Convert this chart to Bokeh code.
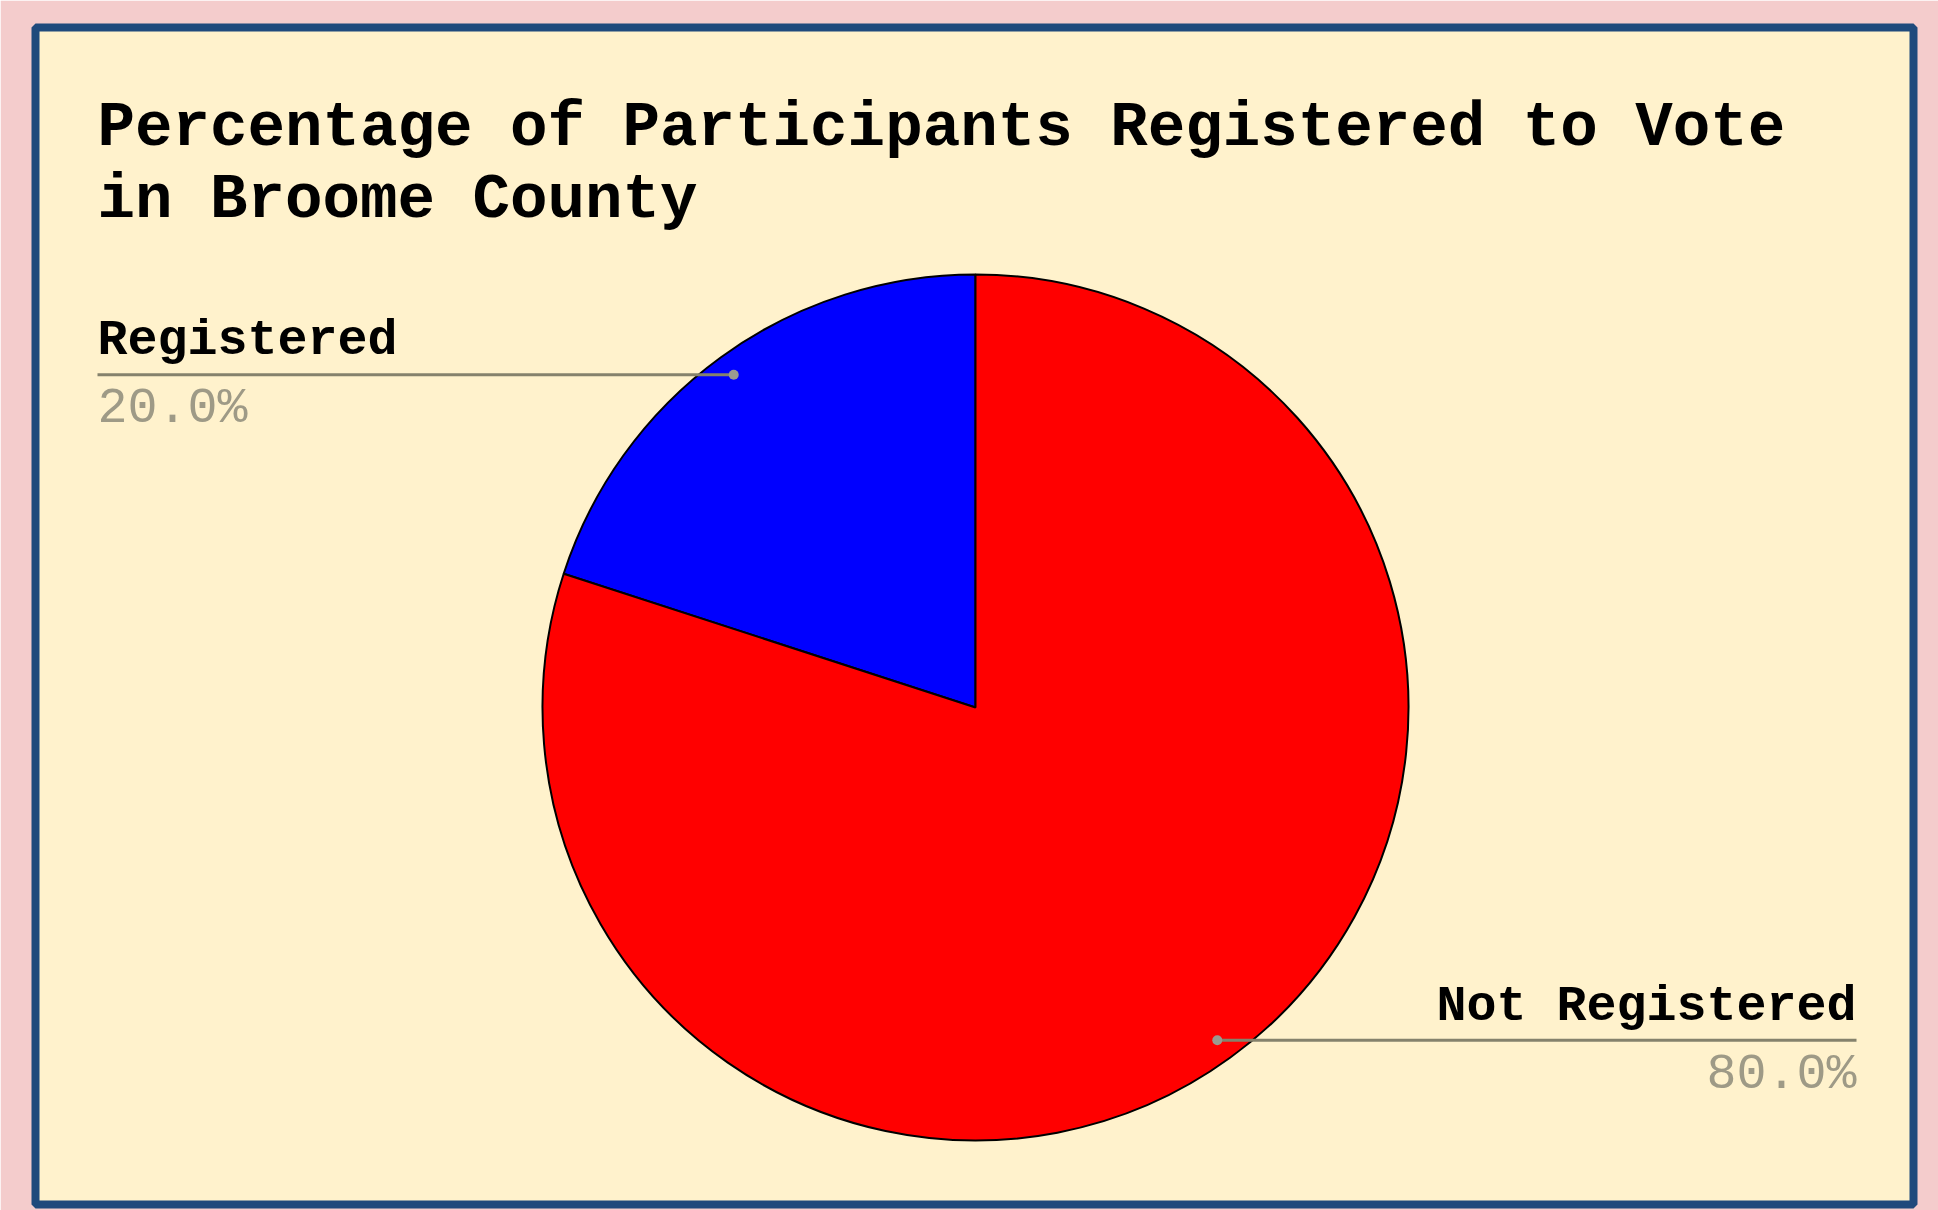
import numpy as np
from bokeh.plotting import figure
from bokeh.models import Range1d, ColumnDataSource
from bokeh.core.properties import value
from bokeh.embed import file_html
from bokeh.resources import INLINE

# ---- data ----
title_lines = ["Percentage of Participants Registered to Vote", "in Broome County"]
categories = ["Registered", "Not Registered"]
percentages = [20.0, 80.0]
slice_colors = ["#0000ff", "#ff0000"]

# ---- layout (page pixel coordinates, 1 data unit = 1 px) ----
PAGE_H = 1210
W, H = 1938, 1210
fl, fr, ft, fb = 35, 1913, 27, 1204  # frame edges on the page
TXT_SHIFT = 14


def Y(py):
    return PAGE_H - py


p = figure(width=W, height=H, output_backend="svg", toolbar_location=None,
           x_range=Range1d(fl, fr), y_range=Range1d(Y(fb), Y(ft)),
           x_axis_location=None, y_axis_location=None,
           min_border_left=fl, min_border_right=W - fr,
           min_border_top=ft, min_border_bottom=H - fb)
p.grid.visible = False
p.background_fill_color = "#fff2cc"
p.border_fill_color = "#f4cccc"
p.outline_line_color = "#1f4a7c"
p.outline_line_width = 8

FONT = "Liberation Mono"

# title
for i, line in enumerate(title_lines):
    p.text(x=[97], y=[Y(142 + 72 * i) + TXT_SHIFT], text=[line], text_font=value(FONT),
           text_font_size="62.5px", text_font_style="bold", text_color="#000000",
           text_align="left", text_baseline="alphabetic")

# pie
cx, cy, R = 975, Y(707), 433
pct = np.array(percentages)
start = np.deg2rad(90 + 3.6 * (np.cumsum(pct) - pct))
end = start + np.deg2rad(3.6 * pct)
src = ColumnDataSource(dict(start=start, end=end, color=slice_colors, cat=categories))
p.wedge(x=cx, y=cy, radius=R, start_angle="start", end_angle="end",
        fill_color="color", line_color="#000000", line_width=2, source=src)

# leader lines and labels
mid = (start + end) / 2
for cat, v, a in zip(categories, percentages, mid):
    dx, dy = cx + 0.95 * R * np.cos(a), cy + 0.95 * R * np.sin(a)
    if np.cos(a) < 0:
        xe, align = 97, "left"
    else:
        xe, align = 1856, "right"
    p.line(x=[dx, xe], y=[dy, dy], line_color="#85826c", line_width=3)
    p.scatter(x=[dx], y=[dy], size=10, fill_color="#9a9a90", line_color=None)
    p.text(x=[xe], y=[dy + 20 + TXT_SHIFT], text=[cat], text_font=value(FONT),
           text_font_size="50px", text_font_style="bold", text_color="#000000",
           text_align=align, text_baseline="alphabetic")
    p.text(x=[xe], y=[dy - 48 + TXT_SHIFT], text=[f"{v:.1f}%"], text_font=value(FONT),
           text_font_size="50px", text_color="#9e9a86", text_align=align,
           text_baseline="alphabetic")

html = file_html(p, INLINE)
html = html.replace("<body>", '<body style="background-color:#f4cccc;">', 1)
open("out.html", "w").write(html)
